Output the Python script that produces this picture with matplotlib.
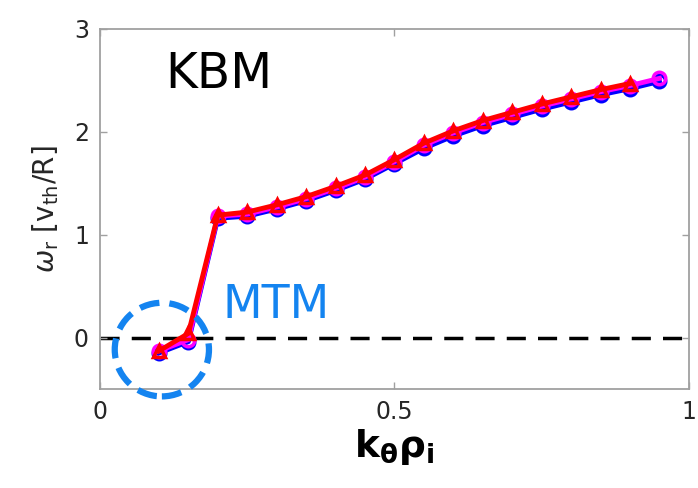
import numpy as np
import matplotlib
matplotlib.use("Agg")
import matplotlib.pyplot as plt
from matplotlib.patches import Ellipse

plt.rcParams['mathtext.fontset'] = 'dejavusans'

# k_theta rho_i grid
ky = [0.10, 0.15, 0.20, 0.25, 0.30, 0.35, 0.40, 0.45, 0.50, 0.55,
      0.60, 0.65, 0.70, 0.75, 0.80, 0.85, 0.90, 0.95]

# real frequency, three runs
wr_blue = [-0.15, -0.04, 1.16, 1.18, 1.25, 1.33, 1.43, 1.54, 1.69, 1.84,
           1.96, 2.06, 2.14, 2.22, 2.29, 2.36, 2.42, 2.49]
wr_magenta = [-0.13, -0.02, 1.18, 1.20, 1.27, 1.35, 1.45, 1.56, 1.71, 1.87,
              1.99, 2.09, 2.17, 2.25, 2.32, 2.39, 2.45, 2.52]
wr_red = [-0.13, 0.04, 1.19, 1.22, 1.29, 1.37, 1.47, 1.58, 1.73, 1.89,
          2.01, 2.11, 2.19, 2.27, 2.34, 2.41, 2.47]

xticks = [0, 0.5, 1]
xticklabels = ['0', '0.5', '1']
yticks = [0, 1, 2, 3]

grey = '#a0a0a0'
txt = '#262626'
mtm_blue = '#1484f0'

fig = plt.figure(figsize=(6.98, 4.88), dpi=100)
ax = fig.add_axes([0.1433, 0.2029, 0.8437, 0.7377])

ax.axhline(0, color='black', lw=2.5, ls=(0, (5.5, 3.5)), zorder=1)

ax.plot(ky, wr_blue, '-o', color='blue', lw=3.5, ms=9, mfc='none', mew=2.5, zorder=2)
ax.plot(ky, wr_magenta, '-o', color='magenta', lw=3.5, ms=9, mfc='none', mew=2.5, zorder=3)
ax.plot(ky[:len(wr_red)], wr_red, '-^', color='red', lw=3.5, ms=9, mfc='none', mew=2.5, zorder=4)

circ = Ellipse((0.105, -0.117), 0.16, 0.91, fill=False, ec=mtm_blue, lw=4.5,
               ls=(0, (3.2, 1.6)), clip_on=False, zorder=5)
ax.add_patch(circ)

ax.text(0.11, 2.56, 'KBM', fontsize=35, color='black', ha='left', va='center')
ax.text(0.208, 0.31, 'MTM', fontsize=33, color=mtm_blue, ha='left', va='center')

ax.set_xlim(0, 1)
ax.set_ylim(-0.5, 3)
ax.set_xticks(xticks)
ax.set_xticklabels(xticklabels)
ax.set_yticks(yticks)
ax.tick_params(direction='in', length=5, width=1, color=grey, labelsize=17,
               labelcolor=txt, top=True, right=True, pad=8)
for s in ax.spines.values():
    s.set_color(grey)
    s.set_linewidth(1.3)

ax.set_ylabel(r'$\omega_{\mathrm{r}}$ [v$_{\mathrm{th}}$/R]', fontsize=20, color=txt, labelpad=9)
ax.set_xlabel(r'$\mathbf{k}_{\mathbf{\theta}}\mathbf{\rho}_{\mathbf{i}}$', fontsize=27,
              color='black', labelpad=2)

fig.savefig('out.png', dpi=100)
